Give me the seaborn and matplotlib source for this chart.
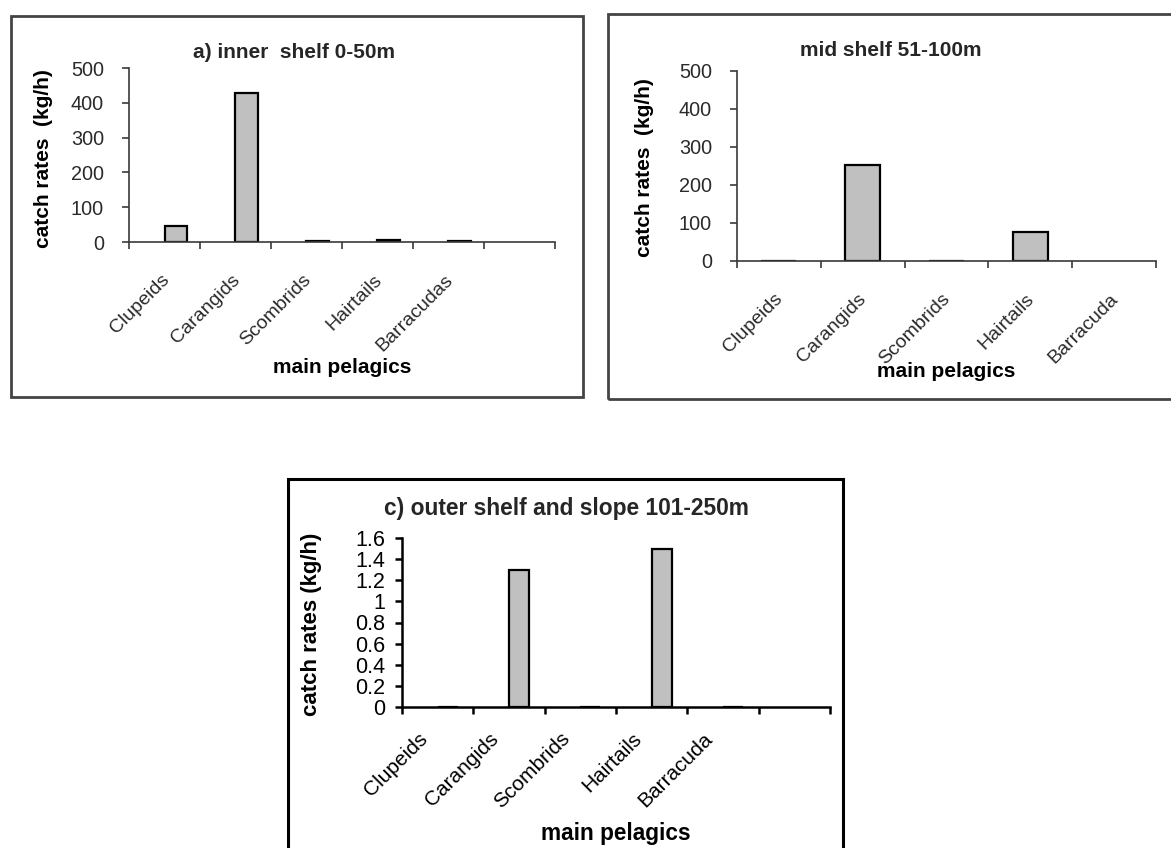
import numpy as np
import pandas as pd
import matplotlib
matplotlib.use("Agg")
import matplotlib.pyplot as plt
import matplotlib.transforms as mtransforms
from matplotlib.patches import Rectangle
from matplotlib.ticker import FuncFormatter
import seaborn as sns

# Catch rates of the main pelagic groups by depth stratum (kg/h)
inner_groups = ["Clupeids", "Carangids", "Scombrids", "Hairtails", "Barracudas", " "]
inner_rates = [46, 428, 2, 6, 2, np.nan]

mid_groups = ["Clupeids", "Carangids", "Scombrids", "Hairtails", "Barracuda"]
mid_rates = [1, 252, 1, 76, np.nan]

outer_groups = ["Clupeids", "Carangids", "Scombrids", "Hairtails", "Barracuda", " "]
outer_rates = [0, 1.3, 0, 1.5, 0, np.nan]

inner_yticks = [0, 100, 200, 300, 400, 500]
mid_yticks = [0, 100, 200, 300, 400, 500]
outer_yticks = [0, 0.2, 0.4, 0.6, 0.8, 1.0, 1.2, 1.4, 1.6]

titles = ["a) inner  shelf 0-50m", "mid shelf 51-100m", "c) outer shelf and slope 101-250m"]
xlabel = "main pelagics"

sns.set_theme(style="white")
plt.rcParams["font.family"] = ["Liberation Sans", "DejaVu Sans"]

W, H = 1171, 848
fig = plt.figure(figsize=(W / 100, H / 100), dpi=100)
fig.patch.set_facecolor("white")


def px_rect(x0, x1, ytop, ybot):
    return [x0 / W, 1 - ybot / H, (x1 - x0) / W, (ybot - ytop) / H]


def frame(x0, y0, x1, y1, color, lw):
    fig.add_artist(Rectangle((x0 / W, 1 - y1 / H), (x1 - x0) / W, (y1 - y0) / H,
                             transform=fig.transFigure, fill=False,
                             edgecolor=color, linewidth=lw, clip_on=False))


BAR = "#c0c0c0"


def clustered(ax, groups, rates, width):
    # two-slot cluster per category; only the second slot carries data
    n = len(groups)
    df = pd.DataFrame({
        "group": list(groups) * 2,
        "rate": [np.nan] * n + list(rates),
        "series": ["lead"] * n + ["catch"] * n,
    })
    sns.barplot(data=df, x="group", y="rate", hue="series",
                hue_order=["lead", "catch"], order=groups, dodge=True,
                width=width, palette=[BAR, BAR], edgecolor="black",
                linewidth=1.6, errorbar=None, legend=False, ax=ax)


def simple(ax, groups, rates, width):
    df = pd.DataFrame({"group": groups, "rate": rates})
    sns.barplot(data=df, x="group", y="rate", order=groups, color=BAR,
                saturation=1, width=width, edgecolor="black", linewidth=1.6,
                errorbar=None, ax=ax)


def style_axes(ax, groups, yticks, ymax, axis_color, axis_lw, tick_fs, cat_fs,
               tick_color, pad, dx_px, ypad, fmt=None):
    n = len(groups)
    ax.set_xlim(-0.5, n - 0.5)
    ax.set_ylim(0, ymax)
    ax.set_facecolor("none")
    for s in ["top", "right"]:
        ax.spines[s].set_visible(False)
    for s in ["left", "bottom"]:
        ax.spines[s].set_color(axis_color)
        ax.spines[s].set_linewidth(axis_lw)
    ax.set_xticks(np.arange(-0.5, n, 1.0))
    ax.set_xticklabels([])
    ax.set_xticks(np.arange(n), labels=groups, minor=True)
    ax.tick_params(axis="x", which="major", direction="out", length=5,
                   width=axis_lw, color=axis_color, bottom=True)
    ax.tick_params(axis="x", which="minor", length=0, pad=pad,
                   labelsize=cat_fs, labelcolor=tick_color, bottom=True)
    ax.set_yticks(yticks)
    if fmt is not None:
        ax.yaxis.set_major_formatter(fmt)
    ax.tick_params(axis="y", direction="out", length=5, width=axis_lw,
                   color=axis_color, labelsize=tick_fs, labelcolor=tick_color,
                   left=True, pad=ypad)
    shift = mtransforms.ScaledTranslation(dx_px / 100, 0, fig.dpi_scale_trans)
    for lab in ax.get_xticklabels(minor=True):
        lab.set_rotation(45)
        lab.set_ha("right")
        lab.set_va("top")
        lab.set_rotation_mode("anchor")
        lab.set_transform(lab.get_transform() + shift)
    ax.grid(False)


GRAY_AX = "#3a3a3a"
GRAY_TXT = "#2a2a2a"

# a) inner shelf
ax_a = fig.add_axes(px_rect(129, 555, 68, 242))
clustered(ax_a, inner_groups, inner_rates, 0.64)
style_axes(ax_a, inner_groups, inner_yticks, 500, GRAY_AX, 1.2, 14.3, 14,
           GRAY_TXT, 21, -4, 13)

# b) mid shelf
ax_b = fig.add_axes(px_rect(737, 1156, 71, 261))
simple(ax_b, mid_groups, mid_rates, 0.42)
style_axes(ax_b, mid_groups, mid_yticks, 500, GRAY_AX, 1.2, 14.3, 14,
           GRAY_TXT, 21, -5, 13)

# c) outer shelf and slope
ax_c = fig.add_axes(px_rect(402, 830, 538, 707))
clustered(ax_c, outer_groups, outer_rates, 0.56)
style_axes(ax_c, outer_groups, outer_yticks, 1.6, "black", 1.8, 15.5, 15,
           "black", 16, -20, 7, fmt=FuncFormatter(lambda v, p: f"{v:g}"))

# axis titles
label_specs = [
    (ax_a, "catch rates  (kg/h)", 15, (43 - 129) / 426, (242 - 159) / 174, -0.724),
    (ax_b, "catch rates  (kg/h)", 15, (645 - 737) / 419, (261 - 168) / 190, -0.579),
    (ax_c, "catch rates (kg/h)", 16, (311 - 402) / 428, (707 - 624) / 169, -0.746),
]
for ax, ylab, fs, yx, yy, xy in label_specs:
    ax.set_ylabel(ylab, fontsize=fs, fontweight="bold", color="black")
    ax.yaxis.set_label_coords(yx, yy)
    ax.yaxis.label.set_va("center")
    ax.set_xlabel(xlabel, fontsize=fs + (0.3 if ax is ax_c else 0),
                  fontweight="bold", color="black")
    ax.xaxis.set_label_coords(0.5, xy)
    ax.xaxis.label.set_va("center")

# chart titles
fig.text(294 / W, 1 - 53 / H, titles[0], ha="center", va="center",
         fontsize=15, fontweight="bold")
fig.text(891 / W, 1 - 50 / H, titles[1], ha="center", va="center",
         fontsize=15, fontweight="bold")
fig.text(566 / W, 1 - 509 / H, titles[2], ha="center", va="center",
         fontsize=16.4, fontweight="bold")

# chart-area borders
frame(11, 16, 583, 397, "#444444", 2.0)
frame(608, 14, 1185, 399, "#444444", 2.0)
frame(288, 479, 843, 870, "black", 2.2)

fig.savefig("out.png", dpi=100, facecolor="white")
